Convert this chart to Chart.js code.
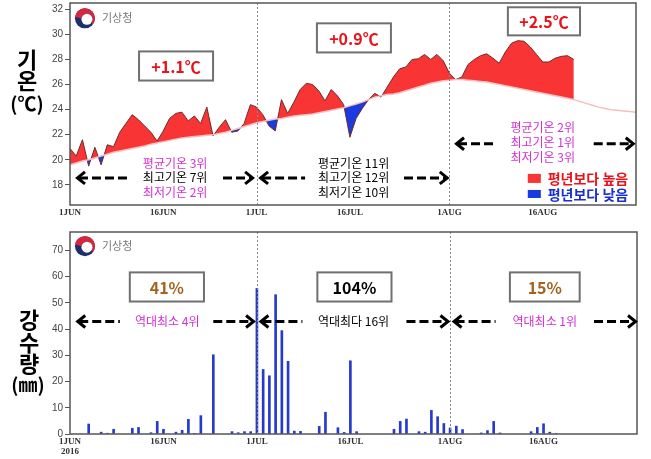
<!DOCTYPE html>
<html><head><meta charset="utf-8">
<script src="https://cdn.jsdelivr.net/npm/chart.js@4/dist/chart.umd.min.js"></script>
<style>
html,body{margin:0;padding:0;background:#fff;}
#wrap{position:relative;width:651px;height:459px;overflow:hidden;}
canvas{position:absolute;left:0;display:block;}
#c1{top:0;}
#c2{top:218px;}
</style></head><body>
<div id="wrap"><canvas id="c1" width="651" height="218"></canvas><canvas id="c2" width="651" height="241"></canvas></div>
<script>
// ---------- data ----------
const dayTicks = [0, 15, 30, 45, 61, 76];
const dayTickLabels = ['1JUN', '16JUN', '1JUL', '16JUL', '1AUG', '16AUG'];
const yearLabel = '2016';
const tempTicks = [18, 20, 22, 24, 26, 28, 30, 32];
const rainTicks = [0, 10, 20, 30, 40, 50, 60, 70];
const periodMarks = [30, 61];

const tempObserved = [20.9,20.3,21.6,19.5,21.0,19.6,21.2,21.05,22.2,22.9,
 23.6,23.2,22.7,22.2,21.5,22.3,23.3,23.7,23.8,23.1,
 23.5,22.9,24.2,21.9,22.6,23.2,22.2,22.3,22.9,24.4,
 24.2,23.6,22.7,22.3,24.8,23.7,24.6,25.6,26.1,26.0,
 25.5,24.7,25.6,25.1,24.4,21.8,23.3,24.1,24.8,25.3,
 25.0,25.8,26.6,27.25,27.4,28.0,28.05,28.4,28.0,28.4,
 27.9,26.9,26.4,26.6,27.6,28.0,28.3,28.45,28.1,27.7,
 28.6,29.3,29.5,29.45,29.0,28.4,27.8,27.8,28.1,28.25,
 28.3,28.0];
const tempNormal = [19.6,19.75,19.9,20.0,20.15,20.3,20.45,20.6,20.7,20.8,
 20.9,21.0,21.1,21.25,21.35,21.45,21.55,21.65,21.75,21.8,
 21.85,21.9,21.95,22.0,22.1,22.2,22.35,22.5,22.65,22.8,
 22.95,23.05,23.15,23.25,23.3,23.4,23.5,23.55,23.6,23.65,
 23.75,23.85,23.95,24.05,24.15,24.3,24.45,24.6,24.8,25.0,
 25.1,25.2,25.25,25.35,25.5,25.65,25.8,25.95,26.1,26.2,
 26.3,26.35,26.4,26.4,26.35,26.3,26.25,26.2,26.1,26.0,
 25.9,25.8,25.7,25.6,25.5,25.4,25.3,25.2,25.1,25.0,
 24.9,24.8,24.65,24.5,24.35,24.2,24.1,24.0,23.95,23.9,
 23.85,23.8];

const rainDays = [3,5,6,7,10,11,13,14,15,17,18,19,20,21,23,26,27,28,29,30,
 31,32,33,34,35,36,37,40,41,43,44,45,46,52,53,54,56,57,58,59,
 60,61,62,63,66,67,68,69,74,75,76,77,78];
const rainAmounts = [3.8,0.7,0.3,1.8,2.2,2.5,0.5,4.8,1.8,0.7,1.4,5.6,0.2,7.0,30.2,0.9,0.5,0.9,0.9,55.5,
 24.6,22.2,53.1,39.4,27.7,1.1,1.0,2.9,8.3,2.4,0.6,27.9,0.9,1.8,4.8,5.7,0.9,0.7,9.0,6.6,
 4.0,2.3,3.0,1.7,0.4,1.3,4.8,0.4,0.9,2.5,3.9,0.7,0.2];

const tempAnomalies = ['+1.1\u2103', '+0.9\u2103', '+2.5\u2103'];
const rainRatios = ['41%', '104%', '15%'];
const tempRanks = [['평균기온 3위','최고기온 7위','최저기온 2위'],
                   ['평균기온 11위','최고기온 12위','최저기온 10위'],
                   ['평균기온 2위','최고기온 1위','최저기온 3위']];
const rainRanks = ['역대최소 4위', '역대최다 16위', '역대최소 1위'];
const legendLabels = ['평년보다 높음', '평년보다 낮음'];

// ---------- styles ----------
const RED = 'rgb(248,52,52)', BLUE = 'rgb(28,58,225)';
const MAG = '#d22fd2', BROWN = 'rgb(165,100,30)';
const KFONT = '"Noto Sans CJK KR", "Noto Sans", sans-serif';

function drawLogo(ctx, cx, cy) {
  const r = 10;
  ctx.save();
  ctx.beginPath(); ctx.arc(cx, cy, r, 0, Math.PI * 2); ctx.fillStyle = '#1e2f6e'; ctx.fill();
  ctx.beginPath(); ctx.arc(cx, cy, r, Math.PI * 1.05, Math.PI * 0.2, false);
  ctx.arc(cx + 2, cy + 1, r * 0.55, Math.PI * 0.2, Math.PI * 1.05, true);
  ctx.closePath(); ctx.fillStyle = '#d7263d'; ctx.fill();
  ctx.beginPath(); ctx.arc(cx + 2, cy + 1, r * 0.55, 0, Math.PI * 2); ctx.fillStyle = '#fff'; ctx.fill();
  ctx.fillStyle = '#777'; ctx.font = '11px ' + KFONT; ctx.textAlign = 'left'; ctx.textBaseline = 'middle';
  ctx.fillText('기상청', cx + 17, cy);
  ctx.restore();
}
function drawBox(ctx, x1, y1, x2, y2) {
  ctx.save();
  ctx.fillStyle = '#fff'; ctx.fillRect(x1, y1, x2 - x1, y2 - y1);
  ctx.strokeStyle = '#707070'; ctx.lineWidth = 2; ctx.strokeRect(x1, y1, x2 - x1, y2 - y1);
  ctx.restore();
}
function dashArrow(ctx, xa, xb, y, headLeft) {
  ctx.save();
  ctx.strokeStyle = '#000'; ctx.lineWidth = 3; ctx.setLineDash([9, 4]);
  ctx.beginPath();
  if (headLeft) { ctx.moveTo(xa + 3, y); ctx.lineTo(xb, y); }
  else { ctx.moveTo(xa, y); ctx.lineTo(xb - 3, y); }
  ctx.stroke();
  ctx.setLineDash([]);
  const hx = headLeft ? xa : xb, s = headLeft ? 1 : -1;
  ctx.lineWidth = 3; ctx.lineJoin = 'miter';
  ctx.beginPath(); ctx.moveTo(hx + s * 9, y - 6); ctx.lineTo(hx + s * 1.5, y); ctx.lineTo(hx + s * 9, y + 6); ctx.stroke();
  ctx.restore();
}
function text(ctx, str, x, y, font, color, align) {
  ctx.save(); ctx.font = font; ctx.fillStyle = color; ctx.textAlign = align || 'center'; ctx.textBaseline = 'middle';
  ctx.fillText(str, x, y); ctx.restore();
}
function frameAndMarks(chart) {
  const {ctx, chartArea: a, scales: {x}} = chart;
  ctx.save();
  ctx.strokeStyle = '#888'; ctx.lineWidth = 1; ctx.setLineDash([2, 2]);
  periodMarks.forEach(d => { const px = Math.round(x.getPixelForValue(d)) + 0.5;
    ctx.beginPath(); ctx.moveTo(px, a.top); ctx.lineTo(px, a.bottom); ctx.stroke(); });
  ctx.setLineDash([]);
  ctx.strokeStyle = '#555'; ctx.lineWidth = 1.5; ctx.strokeRect(a.left, a.top, a.width, a.height);
  ctx.restore();
}

const annoTop = {
  id: 'annoTop',
  afterDraw(chart) {
    const {ctx, scales: {x, y}} = chart;
    const X = v => x.getPixelForValue(v), Y = v => y.getPixelForValue(v);
    frameAndMarks(chart);
    drawLogo(ctx, X(2.4), Y(31.28));
    const boxes = [[11.1, 28.64, 23.0, 26.32], [39.7, 30.88, 51.6, 28.56], [70.4, 32.16, 82.0, 29.92]];
    boxes.forEach((b, i) => {
      drawBox(ctx, X(b[0]), Y(b[1]), X(b[2]), Y(b[3]));
      text(ctx, tempAnomalies[i], (X(b[0]) + X(b[2])) / 2, (Y(b[1]) + Y(b[3])) / 2 + 1, 'bold 16px ' + KFONT, '#e8141c');
    });
    const rankPos = [[16.9, [19.68, 18.56, 17.44]], [45.6, [19.68, 18.56, 17.44]], [76.0, [22.56, 21.36, 20.16]]];
    const rankCol = [[MAG, '#000', MAG], ['#000', '#000', '#000'], [MAG, MAG, MAG]];
    rankPos.forEach((p, i) => p[1].forEach((v, j) =>
      text(ctx, tempRanks[i][j], X(p[0]), Y(v), '12px ' + KFONT, rankCol[i][j])));
    const arrows = [[18.56, 0.96, 9.3, 24.6, 29.6], [18.56, 30.4, 37.8, 53.7, 60.9], [21.28, 61.9, 68.2, 84.2, 90.8]];
    arrows.forEach(a => { dashArrow(ctx, X(a[1]), X(a[2]), Y(a[0]), true); dashArrow(ctx, X(a[3]), X(a[4]), Y(a[0]), false); });
    // legend
    ctx.fillStyle = RED; ctx.fillRect(X(73.6), Y(18.88), X(75.7) - X(73.6), Y(18.16) - Y(18.88));
    ctx.fillStyle = BLUE; ctx.fillRect(X(73.6), Y(17.6), X(75.7) - X(73.6), Y(16.96) - Y(17.6));
    text(ctx, legendLabels[0], X(76.8), Y(18.52), 'bold 14px ' + KFONT, '#e8141c', 'left');
    text(ctx, legendLabels[1], X(76.8), Y(17.24), 'bold 14px ' + KFONT, '#1a2fd0', 'left');
    // axis title
    text(ctx, '기', 27, 60, 'bold 22px ' + KFONT, '#000');
    text(ctx, '온', 27, 81, 'bold 22px ' + KFONT, '#000');
    text(ctx, '(\u2103)', 27, 104, 'bold 19px ' + KFONT, '#000');
  }
};

const annoBottom = {
  id: 'annoBottom',
  afterDraw(chart) {
    const {ctx, scales: {x, y}} = chart;
    const X = v => x.getPixelForValue(v), Y = v => y.getPixelForValue(v);
    frameAndMarks(chart);
    drawLogo(ctx, X(2.4), Y(71.6));
    const boxes = [[9.6, 21.5], [39.7, 51.6], [70.6, 81.8]];
    const boxCol = [BROWN, '#000', BROWN];
    boxes.forEach((b, i) => {
      drawBox(ctx, X(b[0]), Y(61.6), X(b[1]), Y(50.5));
      text(ctx, rainRatios[i], (X(b[0]) + X(b[1])) / 2, Y(55.9) + 1, 'bold 16px ' + KFONT, boxCol[i]);
    });
    const rows = [[1.0, 8.0, 15.6, 23.0, 29.7], [30.4, 37.3, 45.5, 54.0, 60.9], [61.4, 68.3, 76.2, 84.1, 91.0]];
    const rowCol = [MAG, '#000', MAG];
    rows.forEach((r, i) => {
      dashArrow(ctx, X(r[0]), X(r[1]), Y(42.9), true);
      dashArrow(ctx, X(r[3]), X(r[4]), Y(42.9), false);
      text(ctx, rainRanks[i], X(r[2]), Y(42.9), '12px ' + KFONT, rowCol[i]);
    });
    text(ctx, '강', 29, 102, 'bold 22px ' + KFONT, '#000');
    text(ctx, '수', 29, 125, 'bold 22px ' + KFONT, '#000');
    text(ctx, '량', 29, 146, 'bold 22px ' + KFONT, '#000');
    text(ctx, '(\u339c)', 28, 167, 'bold 19px ' + KFONT, '#000');
  }
};

function xAxis(height, withYear) {
  return {
    type: 'linear', min: 0, max: 91, offset: false,
    grid: {display: false, drawTicks: false, offset: false}, border: {display: false},
    afterBuildTicks: s => { s.ticks = dayTicks.map(v => ({value: v})); },
    ticks: { autoSkip: false, maxRotation: 0, minRotation: 0, padding: 3,
      font: {family: 'Liberation Serif', size: 9, weight: 'bold', lineHeight: 1.1}, color: '#333',
      callback: v => { const l = dayTickLabels[dayTicks.indexOf(v)]; return (withYear && v === dayTicks[0]) ? [l, yearLabel] : l; } },
    afterFit: s => { s.height = height; s.paddingLeft = 0; s.paddingRight = 0; }
  };
}
function yAxis(min, max, tickList) {
  return {
    min: min, max: max,
    afterBuildTicks: s => { s.ticks = tickList.map(v => ({value: v})); },
    grid: {drawOnChartArea: false, drawTicks: true, tickLength: 5, color: '#555'},
    border: {display: false},
    ticks: {padding: 2, font: {family: 'Liberation Sans', size: 10}, color: '#444'},
    afterFit: s => { s.width = 70; s.paddingTop = 0; s.paddingBottom = 0; }
  };
}

new Chart(document.getElementById('c1'), {
  type: 'line',
  data: { datasets: [
    { label: 'observed', data: tempObserved.map((v, i) => ({x: i, y: v})), borderColor: '#6e2b2b', borderWidth: 1,
      pointRadius: 0, tension: 0, order: 2, fill: {target: 1, above: RED, below: BLUE} },
    { label: 'normal', data: tempNormal.map((v, i) => ({x: i, y: v})), borderColor: 'rgb(245,192,192)', borderWidth: 1.5,
      pointRadius: 0, tension: 0, fill: false, order: 1 }
  ]},
  options: {
    responsive: false, animation: false, devicePixelRatio: 1,
    layout: {padding: {left: 0, right: 15, top: 3, bottom: 0}},
    plugins: {legend: {display: false}, tooltip: {enabled: false}},
    scales: { x: xAxis(13, false), y: yAxis(16.4, 32.5, tempTicks) }
  },
  plugins: [annoTop]
});

new Chart(document.getElementById('c2'), {
  type: 'bar',
  data: { datasets: [
    { label: 'rain', data: rainDays.map((d, i) => ({x: d, y: rainAmounts[i]})), backgroundColor: 'rgb(38,58,205)',
      barThickness: 2, borderWidth: 0 }
  ]},
  options: {
    responsive: false, animation: false, devicePixelRatio: 1,
    layout: {padding: {left: 0, right: 14, top: 14, bottom: 0}},
    plugins: {legend: {display: false}, tooltip: {enabled: false}},
    scales: { x: xAxis(25, true), y: yAxis(0, 77, rainTicks) }
  },
  plugins: [annoBottom]
});
</script>
</body></html>
